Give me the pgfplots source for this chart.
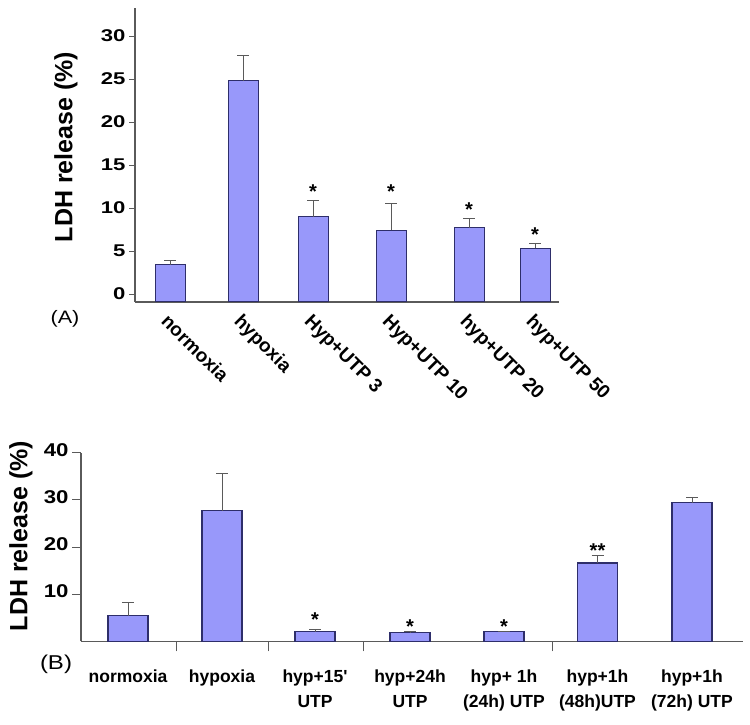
\documentclass[border=0pt]{standalone}
\usepackage{fontspec}
\setmainfont{Liberation Sans}
\newfontfamily\tickA[FakeStretch=1.3]{Liberation Sans}
\newfontfamily\tickB[FakeStretch=1.2]{Liberation Sans}
\usepackage{pgfplots}
\usepackage{pgfplotstable}
\pgfplotsset{compat=1.18}
\definecolor{barfill}{HTML}{9898FA}
\definecolor{baredge}{HTML}{2E2E6A}
\definecolor{axgray}{HTML}{5A5A5A}
\pgfplotstableread{
x   y    e
170 3.4  0.55
243 24.8 2.9
313 9.0  1.9
391 7.4  3.1
469 7.7  1.1
535 5.3  0.6
}\dataA
\pgfplotstableread{
x     y    e
128   5.45 2.75
222   27.7 7.9
315   2.0  0.5
410   1.8  0.3
504   2.0  0.0
597.5 16.6 1.5
692   29.4 1.1
}\dataB
\begin{document}
\begin{tikzpicture}[x=1pt,y=1pt]
\useasboundingbox (0,0) rectangle (750,724);
% ---------- Panel A ----------
\begin{axis}[
  at={(135pt,422pt)}, anchor=south west,
  scale only axis, width=424pt, height=294pt,
  xmin=135, xmax=559, ymin=0, ymax=34.19,
  axis x line=bottom, axis y line=left,
  axis line style={-, axgray, line width=1.3pt},
  xtick={170,243,313,391,469,535},
  xticklabels={normoxia,hypoxia,Hyp+UTP 3,Hyp+UTP 10,hyp+UTP 20,hyp+UTP 50},
  x tick label style={rotate=-45, anchor=north west, font=\fontsize{19}{20}\selectfont\bfseries},
  ytick={0.93,5.93,10.93,15.93,20.93,25.93,30.93},
  yticklabels={0,5,10,15,20,25,30},
  y tick label style={font=\fontsize{17}{18}\tickA\bfseries, anchor=east},
  tick style={draw=axgray, line width=1pt},
  every x tick/.append style={draw=white},
  every y tick/.append style={draw=axgray},
  tick align=outside, major tick length=6pt,
  ybar, bar width=30,
  clip=false,
]
\addplot[fill=barfill, draw=baredge, line width=1pt,
  error bars/.cd, y dir=plus, y explicit,
  error bar style={axgray, line width=1pt},
  error mark options={rotate=90, axgray, line width=1pt, mark size=6pt}]
  table[x=x, y expr=\thisrow{y}+0.93, y error=e] {\dataA};
\node[font=\fontsize{20}{20}\selectfont\bfseries, yshift=-4pt] at (axis cs:313,13.26) {*};
\node[font=\fontsize{20}{20}\selectfont\bfseries, yshift=-4pt] at (axis cs:391,13.26) {*};
\node[font=\fontsize{20}{20}\selectfont\bfseries, yshift=-4pt] at (axis cs:469,11.16) {*};
\node[font=\fontsize{20}{20}\selectfont\bfseries, yshift=-4pt] at (axis cs:535,8.26) {*};
\end{axis}
\node[font=\fontsize{25}{26}\selectfont\bfseries, rotate=90] at (66,577) {LDH release (\%)};
\node[font=\fontsize{18}{20}\tickB] at (65,405) {(A)};
% ---------- Panel B ----------
\begin{axis}[
  at={(81pt,82.7pt)}, anchor=south west,
  scale only axis, width=662pt, height=188.6pt,
  xmin=81, xmax=743, ymin=0, ymax=40,
  axis x line=bottom, axis y line=left,
  axis line style={-, axgray, line width=1.3pt},
  xtick={128,222,315,410,504,597.5,692},
  xticklabels={normoxia,hypoxia,{hyp+15\textquotesingle\\UTP},{hyp+24h\\UTP},{hyp+ 1h\\(24h) UTP},{hyp+1h\\(48h)UTP},{hyp+1h\\(72h) UTP}},
  x tick label style={align=center, anchor=north, font=\fontsize{17.5}{25}\selectfont\bfseries, yshift=-11pt},
  typeset ticklabels with strut,
  minor xtick={176,268,363,552},
  minor tick length=10pt,
  ytick={10,20,30,40},
  yticklabels={10,20,30,40},
  y tick label style={font=\fontsize{18.5}{19}\tickB\bfseries, anchor=east},
  tick style={draw=axgray, line width=1pt},
  every major x tick/.append style={draw=white},
  every minor x tick/.append style={draw=axgray},
  tick align=outside, major tick length=9pt,
  ybar, bar width=40,
  clip=false,
]
\addplot[fill=barfill, draw=baredge, line width=1.2pt,
  error bars/.cd, y dir=plus, y explicit,
  error bar style={axgray, line width=1pt},
  error mark options={rotate=90, axgray, line width=1pt, mark size=6pt}]
  table[x=x, y=y, y error=e] {\dataB};
\node[font=\fontsize{20}{20}\selectfont\bfseries, yshift=-4pt] at (axis cs:315,5.45) {*};
\node[font=\fontsize{20}{20}\selectfont\bfseries, yshift=-4pt] at (axis cs:410,3.9) {*};
\node[font=\fontsize{20}{20}\selectfont\bfseries, yshift=-4pt] at (axis cs:504,3.9) {*};
\node[font=\fontsize{20}{20}\selectfont\bfseries, yshift=-4pt] at (axis cs:597.5,20.1) {**};
\end{axis}
\node[font=\fontsize{25}{26}\selectfont\bfseries, rotate=90] at (21,188) {LDH release (\%)};
\node[font=\fontsize{20}{22}\tickB] at (56,60) {(B)};
\end{tikzpicture}
\end{document}
